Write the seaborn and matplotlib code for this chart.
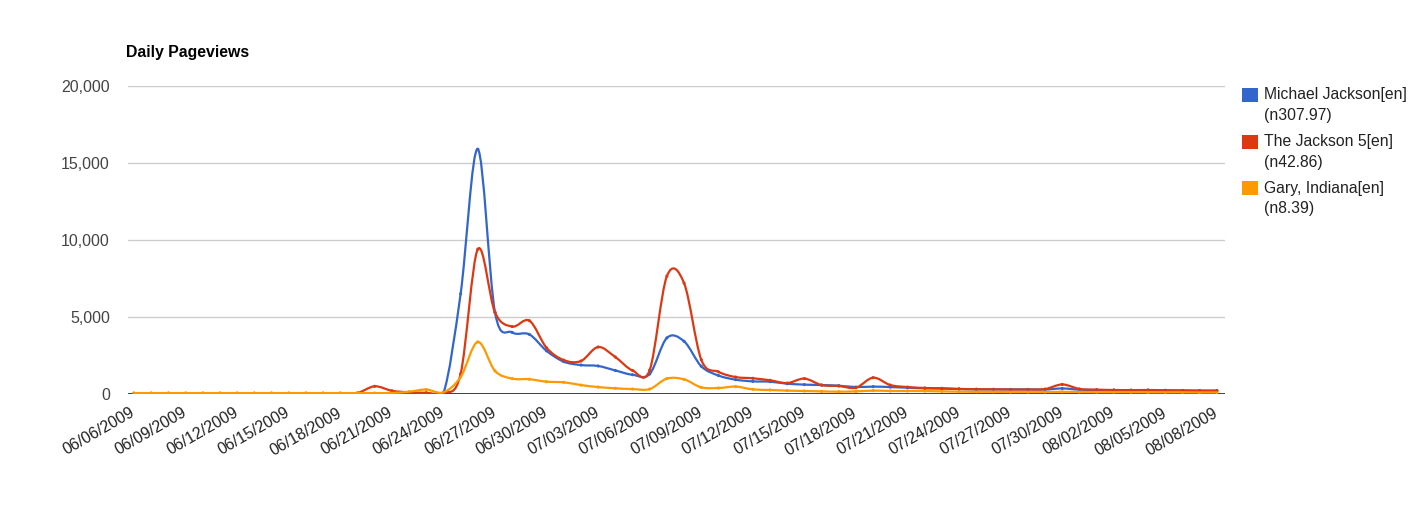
import numpy as np
import pandas as pd
import matplotlib
matplotlib.use("Agg")
import matplotlib.pyplot as plt
import matplotlib.dates as mdates
from matplotlib.path import Path
from matplotlib.patches import PathPatch, Rectangle
from matplotlib.transforms import ScaledTranslation
import seaborn as sns

# ---------------- data ----------------
dates = pd.date_range("2009-06-06", "2009-08-08", freq="D")

series_names = ["Michael Jackson[en]", "The Jackson 5[en]", "Gary, Indiana[en]"]
series_notes = ["(n307.97)", "(n42.86)", "(n8.39)"]

michael = [30, 30, 30, 30, 30, 30, 30, 30, 30, 30, 30, 30, 30, 30, 40, 40,
           40, 40, 50, 6500, 15900, 5300, 4000, 3870, 2800, 2100, 1880, 1820,
           1530, 1250, 1300, 3640, 3420, 1800, 1200, 930, 820, 800, 670, 610,
           580, 540, 450, 480, 450, 410, 370, 350, 320, 300, 300, 300, 300,
           290, 360, 280, 260, 250, 240, 240, 230, 220, 210, 210]
jackson5 = [50, 50, 50, 50, 50, 50, 50, 50, 50, 50, 50, 50, 50, 70, 500, 210,
            110, 80, 60, 1300, 9400, 5300, 4380, 4760, 3000, 2200, 2140, 3050,
            2400, 1530, 1550, 7650, 7200, 2230, 1440, 1100, 1020, 890, 710, 1000,
            580, 520, 410, 1060, 580, 450, 390, 370, 330, 310, 300, 290, 290,
            320, 620, 330, 280, 260, 250, 260, 240, 230, 220, 220]
gary = [60, 60, 60, 60, 60, 60, 60, 60, 60, 60, 60, 60, 60, 60, 60, 70,
        150, 290, 110, 1100, 3380, 1500, 1000, 960, 800, 760, 580, 450,
        370, 320, 320, 1000, 950, 430, 390, 480, 300, 260, 220, 195,
        170, 150, 170, 220, 195, 195, 190, 170, 150, 140, 140, 130, 130,
        130, 140, 130, 120, 120, 120, 110, 110, 110, 100, 100]

tick_labels = ["06/06/2009", "06/09/2009", "06/12/2009", "06/15/2009",
               "06/18/2009", "06/21/2009", "06/24/2009", "06/27/2009",
               "06/30/2009", "07/03/2009", "07/06/2009", "07/09/2009",
               "07/12/2009", "07/15/2009", "07/18/2009", "07/21/2009",
               "07/24/2009", "07/27/2009", "07/30/2009", "08/02/2009",
               "08/05/2009", "08/08/2009"]
y_ticks = [0, 5000, 10000, 15000, 20000]
y_tick_labels = ["0", "5,000", "10,000", "15,000", "20,000"]

colors = ["#3366CC", "#DC3912", "#FF9900"]

# ---------------- style ----------------
sns.set_theme(style="white")
plt.rcParams["font.family"] = ["Liberation Sans", "DejaVu Sans"]

W, H = 1422, 505
fig = plt.figure(figsize=(W / 100, H / 100), dpi=100)
ax = fig.add_axes([128 / W, 111 / H, 1097 / W, 308 / H])

long_df = pd.DataFrame({
    "date": np.tile(dates, 3),
    "views": np.concatenate([michael, jackson5, gary]),
    "series": np.repeat(series_names, len(dates)),
})

# data point dots via seaborn
sns.scatterplot(data=long_df, x="date", y="views", hue="series",
                palette=colors, s=5, linewidth=0, legend=False, ax=ax,
                zorder=3)


def catmull_tangents(x, y):
    x = np.asarray(x, float)
    y = np.asarray(y, float)
    m = np.zeros_like(y)
    m[1:-1] = (y[2:] - y[:-2]) / (x[2:] - x[:-2])
    m[0] = (y[1] - y[0]) / (x[1] - x[0])
    m[-1] = (y[-1] - y[-2]) / (x[-1] - x[-2])
    return m


xnum = mdates.date2num(dates)
for k, (vals, c) in enumerate(zip([michael, jackson5, gary], colors)):
    y = np.asarray(vals, float)
    m = catmull_tangents(xnum, y)
    verts = [(xnum[0], y[0])]
    codes = [Path.MOVETO]
    for i in range(len(y) - 1):
        hstep = xnum[i + 1] - xnum[i]
        verts += [(xnum[i] + hstep / 3, y[i] + m[i] * hstep / 3),
                  (xnum[i + 1] - hstep / 3, y[i + 1] - m[i + 1] * hstep / 3),
                  (xnum[i + 1], y[i + 1])]
        codes += [Path.CURVE4] * 3
    ax.add_patch(PathPatch(Path(verts, codes), fill=False, edgecolor=c,
                           lw=1.6, joinstyle="round", capstyle="round",
                           zorder=4 + k))

# axes
ax.set_xlim(xnum[0] - 0.35, xnum[0] + 63.47)
ax.set_ylim(0, 20000)
for s in ax.spines.values():
    s.set_visible(False)
ax.set_yticks(y_ticks)
ax.set_yticklabels(y_tick_labels)
tick_pos = mdates.date2num(pd.to_datetime(tick_labels, format="%m/%d/%Y"))
ax.set_xticks(tick_pos)
ax.set_xticklabels(tick_labels, rotation=30, ha="right",
                   rotation_mode="anchor", va="top")
ax.tick_params(axis="y", length=0, pad=13, labelsize=11.5, labelcolor="#444444")
ax.tick_params(axis="x", length=0, pad=8, labelsize=11.5, labelcolor="#222222")
shift = ScaledTranslation(-4 / 100, 0, fig.dpi_scale_trans)
for lab in ax.get_xticklabels():
    lab.set_transform(lab.get_transform() + shift)
ax.yaxis.grid(True, color="#cccccc", lw=1)
ax.xaxis.grid(False)
ax.axhline(0, color="#333333", lw=1.3, zorder=2)
ax.set_xlabel("")
ax.set_ylabel("")

# title
fig.text(126 / W, 1 - 53 / H, "Daily Pageviews", fontsize=11.4,
         fontweight="bold", color="#000000", va="center", ha="left")

# legend
for i, (name, note, c) in enumerate(zip(series_names, series_notes, colors)):
    dy = i * 46.5
    fig.add_artist(Rectangle((1242 / W, 1 - (102 + dy) / H), 16 / W, 14 / H,
                             transform=fig.transFigure, facecolor=c,
                             edgecolor="none"))
    fig.text(1264 / W, 1 - (95 + dy) / H, name, fontsize=11.3, color="#222222",
             va="center", ha="left")
    fig.text(1264 / W, 1 - (115.5 + dy) / H, note, fontsize=11.3,
             color="#222222", va="center", ha="left")

fig.savefig("out.png", dpi=100)
